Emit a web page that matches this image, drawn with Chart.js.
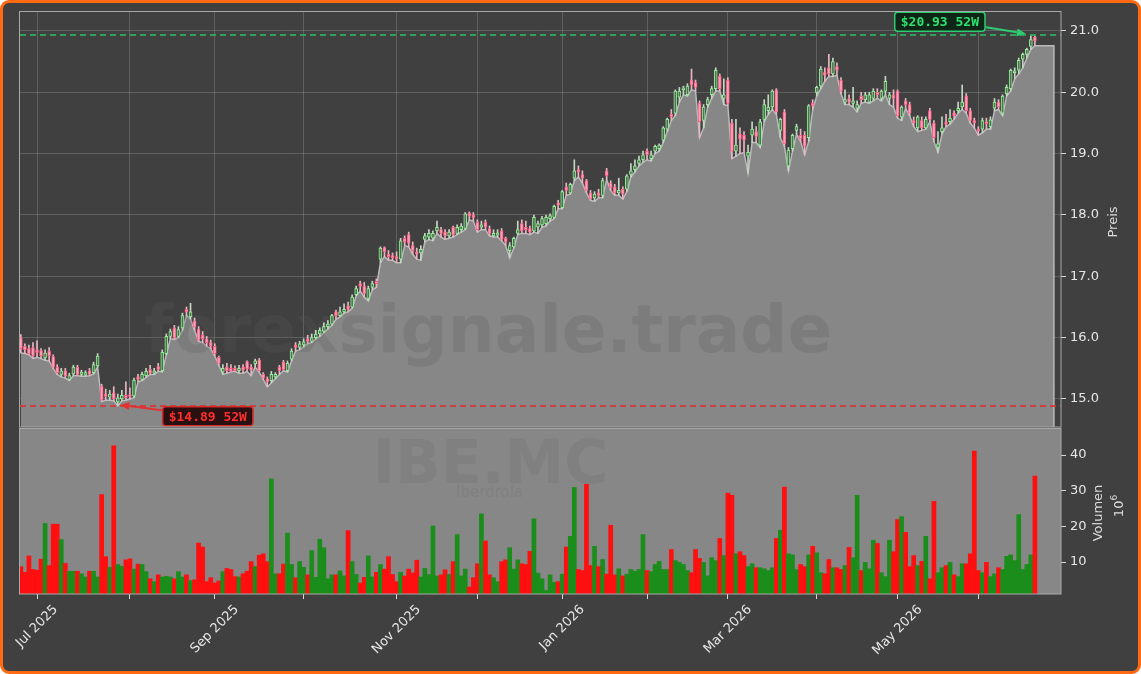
<!DOCTYPE html>
<html><head><meta charset="utf-8">
<script src="https://cdn.jsdelivr.net/npm/chart.js@4.4.1/dist/chart.umd.min.js"></script>
<style>
html,body{margin:0;padding:0;background:#ffffff;}
#wrap{position:relative;width:1141px;height:674px;overflow:hidden;}
#frame{position:absolute;left:0;top:0;width:1141px;height:674px;box-sizing:border-box;border:3px solid #ff6a13;border-radius:9px;background:#404040;}
canvas{position:absolute;left:0;top:0;}
</style></head><body>
<div id="wrap"><div id="frame"></div>
<canvas id="price" width="1141" height="674"></canvas>
<canvas id="vol" width="1141" height="674"></canvas></div>
<script>
// ---------- data (trading-day index 0 = 25 Jun 2025 ... 251 = 19 Jun 2026) ----------
const opens = [
16.00,15.86,15.82,15.84,15.80,15.79,15.67,15.78,15.69,15.52,
15.40,15.46,15.32,15.41,15.52,15.40,15.39,15.46,15.43,15.54,
15.21,15.08,15.03,15.10,14.95,15.00,15.06,15.07,15.05,15.36,
15.32,15.38,15.48,15.42,15.53,15.46,15.74,16.02,16.16,16.02,
16.16,16.46,16.34,16.27,16.14,16.04,15.98,15.92,15.86,15.68,
15.44,15.52,15.50,15.50,15.46,15.52,15.61,15.52,15.57,15.64,
15.40,15.33,15.30,15.36,15.52,15.60,15.46,15.65,15.88,15.84,
15.88,15.98,15.94,16.00,16.06,16.10,16.18,16.22,16.42,16.36,
16.42,16.52,16.50,16.70,16.88,16.84,16.64,16.82,16.92,17.28,
17.47,17.36,17.34,17.32,17.28,17.62,17.68,17.50,17.40,17.38,
17.60,17.64,17.62,17.74,17.76,17.72,17.66,17.80,17.70,17.76,
17.78,18.03,18.00,17.88,17.80,17.88,17.78,17.66,17.67,17.74,
17.62,17.42,17.48,17.70,17.86,17.80,17.78,17.74,17.80,17.84,
17.86,17.94,17.96,18.20,18.12,18.46,18.36,18.60,18.74,18.66,
18.56,18.36,18.28,18.36,18.32,18.72,18.52,18.46,18.36,18.42,
18.42,18.66,18.74,18.84,18.90,19.04,18.92,19.04,19.08,19.22,
19.40,19.64,19.66,19.92,20.04,19.96,20.20,20.16,19.82,19.54,
19.80,19.96,20.06,20.26,19.90,20.20,19.50,19.04,19.32,19.30,
18.96,19.30,19.36,19.14,19.56,19.70,19.76,20.04,19.38,19.68,
18.80,19.08,19.38,19.30,19.30,19.26,19.82,20.00,20.10,20.32,
20.40,20.30,20.42,20.20,19.84,19.90,19.82,19.74,19.94,19.88,
19.84,19.90,20.00,19.90,20.02,19.90,19.96,20.02,19.60,19.86,
19.80,19.54,19.42,19.54,19.42,19.70,19.50,19.10,19.36,19.52,
19.52,19.66,19.70,19.76,19.94,19.70,19.54,19.40,19.40,19.52,
19.44,19.74,19.84,19.66,19.98,20.06,20.32,20.36,20.54,20.62,
20.75,20.90];
const highs = [
16.05,15.90,15.88,15.92,15.95,15.82,15.80,15.84,15.72,15.56,
15.50,15.50,15.42,15.55,15.55,15.47,15.46,15.50,15.60,15.74,
15.24,15.16,15.14,15.20,15.08,15.14,15.28,15.18,15.34,15.40,
15.44,15.50,15.55,15.50,15.58,15.80,16.06,16.14,16.20,16.18,
16.40,16.50,16.56,16.32,16.18,16.10,16.02,15.96,15.90,15.70,
15.56,15.58,15.56,15.54,15.55,15.56,15.62,15.56,15.65,15.66,
15.43,15.36,15.45,15.43,15.55,15.63,15.62,15.82,15.92,15.94,
15.98,16.04,16.06,16.12,16.16,16.24,16.28,16.38,16.45,16.50,
16.55,16.58,16.70,16.84,16.92,16.90,16.84,16.92,16.96,17.48,
17.48,17.42,17.38,17.40,17.62,17.66,17.72,17.56,17.46,17.50,
17.70,17.76,17.74,17.90,17.80,17.76,17.76,17.82,17.84,17.86,
18.04,18.05,18.04,17.92,17.90,17.92,17.82,17.76,17.76,17.78,
17.64,17.55,17.64,17.90,17.92,17.90,17.82,18.00,17.90,17.98,
18.00,18.02,18.16,18.24,18.40,18.52,18.52,18.90,18.80,18.72,
18.58,18.40,18.38,18.42,18.60,18.76,18.56,18.50,18.60,18.46,
18.66,18.84,18.90,18.96,19.04,19.08,19.04,19.14,19.16,19.44,
19.58,19.72,20.04,20.08,20.10,20.14,20.38,20.20,19.86,19.80,
19.92,20.10,20.40,20.30,20.22,20.24,19.56,19.56,19.42,19.36,
19.14,19.52,19.44,19.56,19.88,19.96,20.04,20.06,19.58,19.72,
19.10,19.32,19.48,19.40,19.36,19.80,19.88,20.10,20.42,20.40,
20.62,20.56,20.48,20.24,20.04,19.96,20.08,19.86,20.00,20.00,
20.00,20.06,20.06,20.04,20.26,20.00,20.04,20.04,19.78,19.90,
19.84,19.60,19.62,19.60,19.60,19.74,19.54,19.36,19.60,19.64,
19.72,19.70,19.84,20.12,19.98,19.74,19.58,19.44,19.58,19.58,
19.60,19.90,19.88,19.96,20.12,20.38,20.40,20.56,20.64,20.72,
20.93,20.92];
const lows = [
15.75,15.74,15.72,15.66,15.68,15.66,15.63,15.62,15.50,15.40,
15.36,15.34,15.30,15.38,15.38,15.37,15.37,15.38,15.41,15.52,
14.96,14.98,14.98,14.97,14.89,14.97,14.98,15.00,15.02,15.28,
15.30,15.35,15.40,15.40,15.45,15.44,15.72,15.98,15.97,16.00,
16.12,16.36,16.30,16.12,15.94,15.92,15.86,15.82,15.70,15.55,
15.40,15.42,15.44,15.45,15.42,15.42,15.45,15.38,15.52,15.44,
15.32,15.20,15.26,15.33,15.40,15.46,15.44,15.62,15.78,15.80,
15.85,15.90,15.92,15.98,16.02,16.08,16.14,16.20,16.30,16.34,
16.40,16.42,16.48,16.68,16.76,16.66,16.60,16.78,16.82,17.22,
17.32,17.26,17.26,17.22,17.22,17.50,17.48,17.36,17.28,17.26,
17.56,17.60,17.58,17.70,17.64,17.60,17.62,17.64,17.68,17.72,
17.76,17.92,17.90,17.72,17.76,17.76,17.66,17.64,17.64,17.58,
17.50,17.30,17.46,17.68,17.70,17.70,17.68,17.72,17.70,17.80,
17.82,17.90,17.94,18.10,18.10,18.32,18.34,18.56,18.62,18.52,
18.36,18.24,18.22,18.28,18.28,18.58,18.40,18.32,18.32,18.26,
18.38,18.62,18.70,18.80,18.86,18.90,18.88,19.00,19.04,19.18,
19.36,19.54,19.62,19.84,19.96,19.94,20.04,20.02,19.26,19.42,
19.76,19.90,20.02,20.02,19.80,19.78,18.92,18.96,19.00,19.02,
18.68,19.18,19.18,19.10,19.52,19.64,19.72,19.64,19.26,19.12,
18.72,19.04,19.32,19.20,18.98,19.20,19.72,19.94,20.06,20.18,
20.26,20.26,20.28,19.98,19.80,19.80,19.76,19.68,19.82,19.84,
19.82,19.86,19.90,19.86,19.96,19.80,19.76,19.58,19.54,19.74,
19.62,19.44,19.36,19.38,19.40,19.52,19.20,19.02,19.32,19.44,
19.48,19.56,19.66,19.72,19.66,19.50,19.42,19.30,19.34,19.40,
19.40,19.70,19.72,19.62,19.94,20.02,20.22,20.30,20.40,20.56,
20.70,20.76];
const closes = [
15.82,15.80,15.74,15.70,15.76,15.70,15.75,15.70,15.52,15.43,
15.46,15.37,15.38,15.52,15.40,15.44,15.43,15.40,15.56,15.70,
14.98,15.04,15.08,15.00,15.02,15.06,15.02,15.04,15.31,15.32,
15.40,15.45,15.42,15.46,15.48,15.76,16.02,16.10,16.00,16.13,
16.36,16.42,16.42,16.17,15.96,15.98,15.92,15.86,15.74,15.58,
15.50,15.46,15.45,15.46,15.50,15.47,15.49,15.47,15.62,15.46,
15.34,15.28,15.40,15.40,15.46,15.48,15.58,15.78,15.84,15.90,
15.93,15.94,16.00,16.06,16.12,16.18,16.22,16.36,16.36,16.42,
16.46,16.46,16.66,16.80,16.84,16.72,16.80,16.88,16.88,17.46,
17.40,17.32,17.30,17.28,17.58,17.56,17.54,17.42,17.36,17.44,
17.66,17.70,17.70,17.80,17.70,17.66,17.72,17.68,17.80,17.82,
18.02,17.98,17.96,17.76,17.84,17.80,17.70,17.70,17.71,17.60,
17.56,17.50,17.62,17.76,17.74,17.76,17.72,17.96,17.86,17.94,
17.96,17.99,18.14,18.16,18.38,18.40,18.50,18.72,18.70,18.60,
18.40,18.26,18.34,18.32,18.56,18.64,18.44,18.36,18.40,18.34,
18.64,18.72,18.80,18.90,18.98,18.98,18.98,19.12,19.14,19.42,
19.56,19.60,20.02,20.02,20.07,20.10,20.12,20.08,19.52,19.76,
19.88,20.06,20.36,20.06,19.96,19.82,19.04,19.14,19.24,19.22,
19.02,19.40,19.28,19.52,19.80,19.76,20.02,19.68,19.56,19.16,
19.06,19.30,19.44,19.24,19.12,19.78,19.78,20.08,20.38,20.28,
20.30,20.50,20.36,20.02,19.88,19.84,19.86,19.80,19.88,19.96,
19.96,20.02,19.96,20.02,20.18,19.96,19.90,19.62,19.76,19.80,
19.66,19.50,19.60,19.42,19.56,19.56,19.26,19.16,19.42,19.48,
19.58,19.62,19.74,19.84,19.70,19.54,19.50,19.37,19.54,19.49,
19.55,19.84,19.76,19.94,20.08,20.36,20.35,20.52,20.62,20.70,
20.86,20.84];
// volume in millions
const volumes = [
8.7,7.1,11.7,7.9,7.7,10.8,20.8,9.0,20.6,20.6,
16.3,9.6,7.4,7.4,7.4,6.7,5.8,7.4,7.4,5.8,
28.9,11.5,8.5,42.6,9.3,8.8,10.6,10.9,8.0,9.4,
9.3,7.3,5.3,4.5,6.4,5.8,6.0,5.8,5.3,7.3,
5.8,6.4,4.8,5.0,15.3,14.2,4.5,5.6,4.1,4.7,
7.3,8.2,7.9,5.9,5.8,6.7,7.4,10.1,8.7,11.9,
12.3,10.1,33.3,6.7,6.7,9.4,18.1,9.3,5.6,10.1,
8.5,6.4,13.2,5.7,16.4,14.0,5.3,6.4,6.4,7.5,
6.1,18.8,10.1,6.5,4.1,5.7,11.7,5.8,7.1,9.3,
8.0,11.5,6.5,4.5,7.1,6.1,8.0,6.9,10.5,5.8,
8.2,6.5,20.1,6.1,6.4,7.8,6.5,10.1,17.7,6.1,
8.0,3.0,5.6,9.5,23.5,15.9,6.4,5.6,4.5,10.1,
10.6,14.0,8.0,10.6,9.5,9.3,13.0,22.1,6.9,5.3,
2.0,6.4,4.3,4.5,6.6,14.2,17.2,30.9,7.9,7.6,
31.8,9.0,14.4,8.7,10.7,6.6,20.3,6.4,8.1,6.1,
6.6,7.9,7.4,7.9,17.7,7.6,7.3,9.3,10.2,7.9,
7.9,13.5,10.4,9.9,9.3,7.6,7.0,13.5,11.0,9.9,
6.1,11.2,10.4,16.6,11.8,29.3,28.7,12.3,12.9,11.8,
8.7,9.5,8.4,8.4,8.1,7.6,8.4,16.6,18.9,31.0,
12.3,12.0,7.9,9.3,8.7,12.0,14.4,12.6,7.0,6.7,
10.7,8.4,8.4,7.9,9.0,14.1,11.2,28.7,7.6,9.9,
8.1,16.1,15.2,7.0,5.9,16.1,12.9,21.9,22.7,18.3,
8.7,11.8,9.0,10.2,17.2,5.3,27.0,7.0,8.4,9.0,
9.9,6.4,5.9,9.5,9.5,12.3,41.1,7.6,7.0,9.9,
5.9,6.7,8.4,7.9,11.6,12.0,10.4,23.3,7.9,9.3,
12.0,34.1];
// first trading day of each month (index) and its label
const tickIndex  = [4, 27, 48, 70, 93, 113, 134, 155, 175, 197, 217, 237];
const tickLabels = ['Jul 2025','','Sep 2025','','Nov 2025','','Jan 2026','','Mar 2026','','May 2026',''];
const priceTicks  = [15, 16, 17, 18, 19, 20, 21];
const volumeTicks = [10, 20, 30, 40];
const symbol = 'IBE.MC', company = 'Iberdrola', watermark = 'forexsignale.trade';

// ---------- view settings ----------
const X_MIN = -0.21, X_MAX = 257.46;
const P_MIN = 14.543, P_MAX = 21.326;
const V_MIN = 1.03, V_MAX = 47.57;
const AREA_TAIL = 4.7;   // shading continues a few sessions past the last bar
const AXIS_W = 80;

const FONT = '"DejaVu Sans", sans-serif';
Chart.defaults.font.family = FONT;
Chart.defaults.font.size = 13;
Chart.defaults.color = '#e4e4e4';

const up = closes.map((c, i) => c >= opens[i]);
const last = lows.length - 1;
const areaPts = lows.map((v, i) => ({x: i, y: v}));
areaPts.push({x: last + AREA_TAIL, y: lows[last]});
areaPts.push({x: last + AREA_TAIL, y: P_MIN});
const wickPts = highs.map((h, i) => ({x: i, y: [lows[i], h]}));
const bodyPts = opens.map((o, i) => ({x: i, y: [Math.min(o, closes[i]), Math.max(o, closes[i])]}));
const volPts = volumes.map((v, i) => ({x: i, y: v}));

const high52 = Math.max(...highs), low52 = Math.min(...lows);
const iHigh = highs.indexOf(high52), iLow = lows.indexOf(low52);

function roundRect(ctx, x, y, w, h, r) {
  ctx.beginPath();
  ctx.moveTo(x + r, y); ctx.lineTo(x + w - r, y); ctx.quadraticCurveTo(x + w, y, x + w, y + r);
  ctx.lineTo(x + w, y + h - r); ctx.quadraticCurveTo(x + w, y + h, x + w - r, y + h);
  ctx.lineTo(x + r, y + h); ctx.quadraticCurveTo(x, y + h, x, y + h - r);
  ctx.lineTo(x, y + r); ctx.quadraticCurveTo(x, y, x + r, y); ctx.closePath();
}
function callout(ctx, text, cx, cy, col, bg, txt) {
  ctx.font = 'bold 13px "DejaVu Sans Mono", monospace';
  const w = ctx.measureText(text).width + 12, h = 19;
  roundRect(ctx, cx - w / 2, cy - h / 2, w, h, 3);
  ctx.fillStyle = bg; ctx.fill();
  ctx.lineWidth = 1.5; ctx.strokeStyle = col; ctx.stroke();
  ctx.fillStyle = txt; ctx.textAlign = 'center'; ctx.textBaseline = 'middle';
  ctx.fillText(text, cx, cy + 1);
  return w;
}
function arrow(ctx, x1, y1, x2, y2, col) {
  const ang = Math.atan2(y2 - y1, x2 - x1), L = 9, Wd = 4;
  const bx = x2 - L * Math.cos(ang), by = y2 - L * Math.sin(ang);
  ctx.strokeStyle = col; ctx.lineWidth = 2;
  ctx.beginPath(); ctx.moveTo(x1, y1); ctx.lineTo(bx, by); ctx.stroke();
  ctx.fillStyle = col; ctx.beginPath();
  ctx.moveTo(x2, y2);
  ctx.lineTo(bx + Wd * Math.sin(ang), by - Wd * Math.cos(ang));
  ctx.lineTo(bx - Wd * Math.sin(ang), by + Wd * Math.cos(ang));
  ctx.closePath(); ctx.fill();
}
function frame(chart) {
  const {ctx, chartArea: a} = chart;
  ctx.save(); ctx.strokeStyle = '#a9a9a9'; ctx.lineWidth = 1;
  ctx.strokeRect(Math.round(a.left) - 0.5, Math.round(a.top) + 0.5, Math.round(a.right - a.left) + 0.5, Math.round(a.bottom - a.top) - 0.5);
  ctx.restore();
}
function vTitle(ctx, text, x, y, size) {
  ctx.save(); ctx.translate(x, y); ctx.rotate(-Math.PI / 2);
  ctx.font = size + 'px ' + FONT; ctx.fillStyle = '#dcdcdc';
  ctx.textAlign = 'center'; ctx.textBaseline = 'middle';
  ctx.fillText(text, 0, 0); ctx.restore();
}

const pricePlugin = {
  id: 'pricePlugin',
  afterDatasetDraw(chart, args) {
    if (args.index !== 0) return;
    const {ctx, chartArea: a} = chart;
    ctx.save();
    ctx.font = 'bold 66px ' + FONT;
    ctx.fillStyle = 'rgba(92,92,92,0.24)';
    ctx.textAlign = 'center'; ctx.textBaseline = 'alphabetic';
    ctx.fillText(watermark, a.left + (a.right - a.left) * 0.45, a.top + 341);
    ctx.restore();
  },
  afterDatasetsDraw(chart) {
    const {ctx, chartArea: a, scales: {x, y}} = chart;
    ctx.save();
    ctx.beginPath(); ctx.rect(a.left, a.top, a.right - a.left, a.bottom - a.top); ctx.clip();
    ctx.setLineDash([6, 4]); ctx.lineWidth = 2;
    const yh = y.getPixelForValue(high52), yl = y.getPixelForValue(low52);
    const yhs = Math.round(yh), yls = Math.round(yl);
    ctx.strokeStyle = 'rgba(50,170,95,0.9)';
    ctx.beginPath(); ctx.moveTo(a.left, yhs); ctx.lineTo(a.right, yhs); ctx.stroke();
    ctx.strokeStyle = 'rgba(215,55,55,0.88)';
    ctx.beginPath(); ctx.moveTo(a.left, yls); ctx.lineTo(a.right, yls); ctx.stroke();
    ctx.setLineDash([]);
    // 52W high
    const phx = x.getPixelForValue(iHigh), phy = yh;
    const gcx = phx - 91, gcy = phy - 13.5;
    const gw = callout(ctx, '$' + high52.toFixed(2) + ' 52W', gcx, gcy, '#2ecc71', '#0f2617', '#2ee06f');
    arrow(ctx, gcx + gw / 2 + 1, gcy + 5.5, phx - 5, phy - 1.5, '#2ecc71');
    // 52W low
    const plx = x.getPixelForValue(iLow), ply = yl;
    const rcx = plx + 90, rcy = ply + 10.5;
    const rw = callout(ctx, '$' + low52.toFixed(2) + ' 52W', rcx, rcy, '#d42a2a', '#2a1010', '#ff2e2e');
    arrow(ctx, rcx - rw / 2 - 1, rcy - 6, plx + 2.5, ply - 0.8, '#e53030');
    ctx.restore();
    frame(chart);
  },
  afterDraw(chart) {
    const a = chart.chartArea;
    vTitle(chart.ctx, 'Preis', a.right + 53, (a.top + a.bottom) / 2 + 3, 13);
  }
};

const volPlugin = {
  id: 'volPlugin',
  beforeDatasetsDraw(chart) {
    const {ctx, chartArea: a} = chart;
    ctx.save();
    ctx.fillStyle = '#878787';
    ctx.fillRect(a.left, a.top, a.right - a.left, a.bottom - a.top);
    ctx.fillStyle = 'rgba(92,92,92,0.16)';
    ctx.textAlign = 'center'; ctx.textBaseline = 'alphabetic';
    const cx = a.left + (a.right - a.left) * 0.452;
    ctx.font = 'bold 60px ' + FONT;
    ctx.fillText(symbol, cx, a.top + 55);
    ctx.font = '15px ' + FONT;
    ctx.fillText(company, cx - 1, a.top + 69);
    ctx.restore();
  },
  afterDatasetsDraw(chart) { frame(chart); },
  afterDraw(chart) {
    const {ctx, chartArea: a, scales: {x}} = chart;
    // month labels, rotated 45 degrees and centred under their tick
    ctx.save();
    ctx.font = '13px ' + FONT; ctx.fillStyle = '#e6e6e6';
    ctx.textAlign = 'center'; ctx.textBaseline = 'middle';
    tickIndex.forEach((v, k) => {
      const t = tickLabels[k];
      if (!t) return;
      const w = ctx.measureText(t).width;
      const half = (w + 13) * Math.SQRT1_2 / 2;
      ctx.save();
      ctx.translate(x.getPixelForValue(v), a.bottom + 9 + half);
      ctx.rotate(-Math.PI / 4);
      ctx.fillText(t, 0, 0);
      ctx.restore();
    });
    ctx.restore();
    const cy = (a.top + a.bottom) / 2;
    vTitle(ctx, 'Volumen', a.right + 38, cy + 2, 13);
    ctx.save(); ctx.translate(a.right + 59, cy - 5); ctx.rotate(-Math.PI / 2);
    ctx.fillStyle = '#dcdcdc'; ctx.textBaseline = 'middle'; ctx.textAlign = 'left';
    ctx.font = '13px ' + FONT;
    const w10 = ctx.measureText('10').width;
    ctx.font = '9px ' + FONT;
    const w6 = ctx.measureText('6').width;
    const sx = -(w10 + w6) / 2;
    ctx.font = '13px ' + FONT; ctx.fillText('10', sx, 0);
    ctx.font = '9px ' + FONT; ctx.fillText('6', sx + w10, -5);
    ctx.restore();
  }
};

const setTicks = list => axis => { axis.ticks = list.map(v => ({value: v})); };
const fitY = axis => { axis.width = AXIS_W; axis.paddingTop = 0; axis.paddingBottom = 0; };

new Chart(document.getElementById('price'), {
  type: 'bar',
  data: {datasets: [
    {type: 'line', data: areaPts, fill: 'start', backgroundColor: '#878787', borderColor: '#bababa',
     borderWidth: 1.5, pointRadius: 0, tension: 0, order: 3},
    {type: 'bar', data: wickPts, backgroundColor: up.map(u => u ? '#c4d6c4' : '#e8b6c3'),
     barThickness: 1, grouped: false, order: 2},
    {type: 'bar', data: bodyPts, backgroundColor: up.map(u => u ? '#55705a' : '#f6a7b9'),
     borderColor: up.map(u => u ? '#93ef93' : '#ff5d86'), borderWidth: 1, borderSkipped: false,
     barThickness: 3, minBarLength: 1.5, grouped: false, order: 1}
  ]},
  options: {
    responsive: false, animation: false, devicePixelRatio: 1,
    layout: {padding: {left: 20, top: 11, right: 0, bottom: 247}},
    plugins: {legend: {display: false}, tooltip: {enabled: false}},
    scales: {
      x: {type: 'linear', min: X_MIN, max: X_MAX, offset: false,
          afterBuildTicks: setTicks(tickIndex),
          afterFit: a => { a.height = 0; a.paddingLeft = 0; a.paddingRight = 0; },
          ticks: {display: false},
          grid: {offset: false, color: 'rgba(255,255,255,0.17)', lineWidth: 1, drawTicks: false},
          border: {display: false}},
      y: {type: 'linear', position: 'right', min: P_MIN, max: P_MAX,
          afterBuildTicks: setTicks(priceTicks), afterFit: fitY,
          ticks: {padding: 4, color: '#e6e6e6', callback: v => v.toFixed(1)},
          grid: {color: 'rgba(255,255,255,0.17)', tickColor: '#d8d8d8', tickLength: 5},
          border: {display: false}}
    }
  },
  plugins: [pricePlugin]
});

new Chart(document.getElementById('vol'), {
  type: 'bar',
  data: {datasets: [
    {data: volPts, backgroundColor: up.map(u => u ? '#1b8d1b' : '#ff0f0f'),
     barPercentage: 1, categoryPercentage: 1, borderWidth: 0}
  ]},
  options: {
    responsive: false, animation: false, devicePixelRatio: 1,
    layout: {padding: {left: 20, top: 428, right: 0, bottom: 0}},
    plugins: {legend: {display: false}, tooltip: {enabled: false}},
    scales: {
      x: {type: 'linear', min: X_MIN, max: X_MAX, offset: false,
          afterBuildTicks: setTicks(tickIndex),
          afterFit: a => { a.height = 80; a.paddingLeft = 0; a.paddingRight = 0; },
          ticks: {display: false},
          grid: {offset: false, drawOnChartArea: false, drawTicks: true, tickColor: '#d8d8d8', tickLength: 5},
          border: {display: false}},
      y: {type: 'linear', position: 'right', min: V_MIN, max: V_MAX,
          afterBuildTicks: setTicks(volumeTicks), afterFit: fitY,
          ticks: {padding: 4, color: '#e6e6e6', callback: v => String(v)},
          grid: {drawOnChartArea: false, tickColor: '#d8d8d8', tickLength: 5},
          border: {display: false}}
    }
  },
  plugins: [volPlugin]
});
</script>
</body></html>
